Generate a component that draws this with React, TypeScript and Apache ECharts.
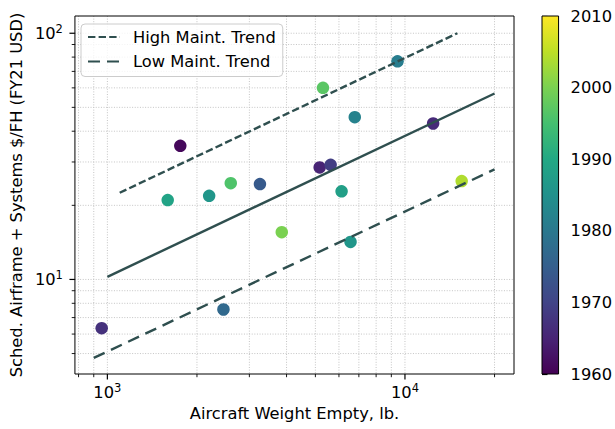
import React, { useEffect, useRef } from 'react';
import * as echarts from 'echarts';

// Aircraft empty weight (lb), scheduled airframe + systems cost ($/FH), first-flight year
const weights = [957, 1758, 1595, 2198, 2598, 3256, 2455, 3855, 5303, 5169, 5627, 6782, 6124, 9441, 12436, 15510, 6563];
const costs = [6.34, 34.9, 21.0, 21.85, 24.6, 24.4, 7.55, 15.56, 60.0, 28.5, 29.2, 45.6, 22.8, 76.9, 43.0, 25.1, 14.2];
const years = [1967, 1961, 1989, 1986, 1996, 1974, 1977, 2000, 1997, 1965, 1969, 1982, 1988, 1981, 1966, 2004, 1986];

const highTrend = [[1100, 22.5], [15000, 100]];
const midTrend = [[1000, 10.25], [20000, 56.9]];
const lowTrend = [[900, 4.8], [20000, 28.0]];

const xTickValues = [800, 900, 1000, 2000, 3000, 4000, 5000, 6000, 7000, 8000, 9000, 10000, 20000];
const yTickValues = [5, 6, 7, 8, 9, 10, 20, 30, 40, 50, 60, 70, 80, 90, 100];

const yearMin = 1960;
const yearMax = 2010;

const viridis = ['#440154', '#482475', '#414487', '#355f8d', '#2a788e', '#21918c', '#22a884', '#44bf70', '#7ad151', '#bddf26', '#fde725'];

const FONT = 'DejaVu Sans';
const FS = 16.3;
const LINE_COLOR = '#2f4f4f';

const isPow10 = (v: number) => Math.abs(Math.log10(v) - Math.round(Math.log10(v))) < 1e-6;

const powLabel = (v: number) => {
  if (!isPow10(v)) return '';
  return `{b|10}{s|${Math.round(Math.log10(v))}}`;
};

const richPow = {
  b: { fontSize: FS, fontFamily: FONT, color: '#000' },
  s: { fontSize: 11.5, fontFamily: FONT, color: '#000', padding: [0, 0, 9, 0] },
};

export default function App() {
  const ref = useRef<HTMLDivElement>(null);
  useEffect(() => {
    if (!ref.current) return;
    const chart = echarts.init(ref.current, undefined, { renderer: 'svg' });

    const scatterData = weights.map((w, i) => [w, costs[i], years[i]]);

    const renderXGrid = (params: any, api: any) => {
      const v = api.value(0);
      const x = api.coord([v, 10])[0];
      const cs = params.coordSys;
      const bottom = cs.y + cs.height;
      const major = isPow10(v);
      return {
        type: 'group',
        children: [
          { type: 'line', shape: { x1: x, y1: cs.y, x2: x, y2: bottom }, style: { stroke: '#c4c4c4', lineWidth: 1, lineDash: [1, 1.6] } },
          { type: 'line', shape: { x1: x, y1: bottom, x2: x, y2: bottom + (major ? 5.5 : 3.2) }, style: { stroke: '#000', lineWidth: major ? 1.2 : 0.9 } },
        ],
      };
    };
    const renderYGrid = (params: any, api: any) => {
      const v = api.value(1);
      const y = api.coord([1000, v])[1];
      const cs = params.coordSys;
      const major = isPow10(v);
      return {
        type: 'group',
        children: [
          { type: 'line', shape: { x1: cs.x, y1: y, x2: cs.x + cs.width, y2: y }, style: { stroke: '#c4c4c4', lineWidth: 1, lineDash: [1, 1.6] } },
          { type: 'line', shape: { x1: cs.x, y1: y, x2: cs.x - (major ? 5.5 : 3.2), y2: y }, style: { stroke: '#000', lineWidth: major ? 1.2 : 0.9 } },
        ],
      };
    };
    const renderColorbar = (params: any) => {
      const cs = params.coordSys;
      const stops = viridis.map((c, i) => ({ offset: i / (viridis.length - 1), color: c }));
      return {
        type: 'rect',
        shape: { x: cs.x, y: cs.y, width: cs.width, height: cs.height },
        style: { fill: new echarts.graphic.LinearGradient(0, 1, 0, 0, stops) },
      };
    };

    chart.setOption({
      animation: false,
      backgroundColor: '#fff',
      textStyle: { fontFamily: FONT },
      grid: [
        { left: 73, top: 16, width: 441, height: 358, show: true, borderColor: '#000', borderWidth: 1, backgroundColor: 'transparent', z: 5 },
        { left: 542, top: 16, width: 17, height: 358, show: true, borderColor: '#000', borderWidth: 1, backgroundColor: 'transparent', z: 5 },
      ],
      xAxis: [
        {
          type: 'log', gridIndex: 0, logBase: 10, min: 778, max: 23250,
          axisLine: { show: false }, axisTick: { show: false }, splitLine: { show: false },
          axisLabel: { formatter: powLabel, rich: richPow, margin: 8, showMinLabel: false, showMaxLabel: false },
          name: 'Aircraft Weight Empty, lb.', nameLocation: 'middle', nameGap: 31,
          nameTextStyle: { fontSize: FS, fontFamily: FONT, color: '#000' },
        },
        { type: 'value', gridIndex: 1, min: 0, max: 1, show: false },
      ],
      yAxis: [
        {
          type: 'log', gridIndex: 0, logBase: 10, min: 4.13, max: 117.5,
          axisLine: { show: false }, axisTick: { show: false }, splitLine: { show: false },
          axisLabel: { formatter: powLabel, rich: richPow, margin: 12, showMinLabel: false, showMaxLabel: false },
          name: 'Sched. Airframe + Systems $/FH (FY21 USD)', nameLocation: 'middle', nameGap: 46,
          nameTextStyle: { fontSize: FS, fontFamily: FONT, color: '#000' },
        },
        {
          type: 'value', gridIndex: 1, min: yearMin, max: yearMax, interval: 10, position: 'right',
          axisLine: { show: false }, splitLine: { show: false },
          axisTick: { show: true, length: 5.5, lineStyle: { color: '#000', width: 1.2 } },
          axisLabel: { fontSize: FS, fontFamily: FONT, color: '#000', margin: 12, formatter: (v: number) => String(v) },
        },
      ],
      visualMap: {
        show: false, type: 'continuous', seriesIndex: 2, dimension: 2,
        min: yearMin, max: yearMax, inRange: { color: viridis },
      },
      legend: {
        data: ['High Maint. Trend', 'Low Maint. Trend'],
        orient: 'vertical', left: 81, top: 24,
        itemWidth: 32, itemHeight: 14, itemGap: 8.5,
        padding: [5, 7, 7, 6],
        itemStyle: { opacity: 0 },
        backgroundColor: 'rgba(255,255,255,0.8)', borderColor: '#cccccc', borderWidth: 1, borderRadius: 4,
        textStyle: { fontSize: FS, fontFamily: FONT, color: '#000', padding: [0, 0, 0, 8] },
      },
      series: [
        { type: 'custom', xAxisIndex: 0, yAxisIndex: 0, renderItem: renderXGrid, data: xTickValues.map((v) => [v, 10]), z: 1, silent: true },
        { type: 'custom', xAxisIndex: 0, yAxisIndex: 0, renderItem: renderYGrid, data: yTickValues.map((v) => [1000, v]), z: 1, silent: true },
        { type: 'scatter', name: 'Aircraft', xAxisIndex: 0, yAxisIndex: 0, symbolSize: 12.5, itemStyle: { opacity: 1 }, data: scatterData, z: 3 },
        { type: 'line', name: 'High Maint. Trend', data: highTrend, showSymbol: false, symbol: 'none', lineStyle: { color: LINE_COLOR, width: 2.4, type: [7.4, 3.2] }, itemStyle: { color: LINE_COLOR }, z: 4 },
        { type: 'line', name: 'Median Trend', data: midTrend, showSymbol: false, symbol: 'none', lineStyle: { color: LINE_COLOR, width: 2.4 }, itemStyle: { color: LINE_COLOR }, z: 4 },
        { type: 'line', name: 'Low Maint. Trend', data: lowTrend, showSymbol: false, symbol: 'none', lineStyle: { color: LINE_COLOR, width: 2.4, type: [12, 7] }, itemStyle: { color: LINE_COLOR }, z: 4 },
        { type: 'custom', xAxisIndex: 1, yAxisIndex: 1, renderItem: renderColorbar, data: [[0, yearMin]], z: 1, silent: true },
      ],
    });
    return () => chart.dispose();
  }, []);
  return <div ref={ref} style={{ position: 'absolute', left: 0, top: 0, width: 615, height: 429 }} />;
}
